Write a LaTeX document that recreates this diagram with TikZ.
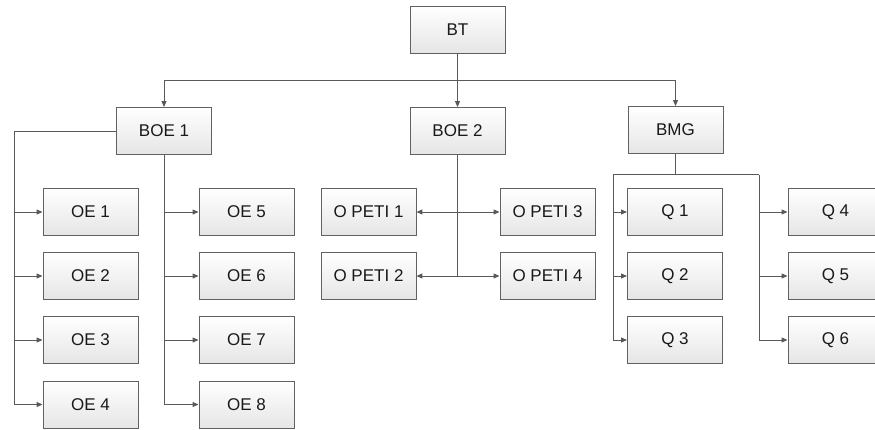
\documentclass[tikz,border=0pt]{standalone}
\usepackage{fontspec}
\setmainfont{Liberation Sans}
\usetikzlibrary{arrows.meta}

\begin{document}
\begin{tikzpicture}[
    x=1pt, y=-1pt,
    >={Triangle[length=6pt,width=5pt]},
    box/.style={
        draw=black!62,
        line width=0.9pt,
        top color=white,
        bottom color=black!10,
        minimum width=95pt,
        minimum height=47pt,
        inner sep=0pt,
        text=black!90,
        font=\fontsize{17}{19}\selectfont
    },
    wire/.style={draw=black!65, line width=1pt}
]

% Rahmen
\useasboundingbox (0,0) rectangle (875,429);
\clip (0,0) rectangle (875,429);

% Spitze
\node[box] (bt) at (457.5,29.5) {BT};

% zweite Ebene
\node[box] (boe1) at (164,131) {BOE 1};
\node[box] (boe2) at (457.5,131) {BOE 2};
\node[box] (bmg) at (675.5,130) {BMG};

% OE-Kaesten
\foreach \i/\y in {1/212,2/276,3/340,4/404.5}{
    \node[box] (oe\i) at (90.5,\y) {OE \i};
}
\foreach \i/\y in {5/212,6/276,7/340,8/404.5}{
    \node[box] (oe\i) at (246.5,\y) {OE \i};
}

% O PETI-Kaesten
\node[box] (op1) at (368.5,212) {O PETI 1};
\node[box] (op2) at (368.5,276) {O PETI 2};
\node[box] (op3) at (547.5,212) {O PETI 3};
\node[box] (op4) at (547.5,276) {O PETI 4};

% Q-Kaesten
\foreach \i/\y in {1/212,2/276,3/340}{
    \node[box] (q\i) at (675,\y) {Q \i};
}
\foreach \i/\y in {4/212,5/276,6/340}{
    \node[box] (q\i) at (835.5,\y) {Q \i};
}

% Verteiler unter BT
\coordinate (bus) at (457.5,80);
\draw[wire] (bt.south) -- (bus);
\draw[wire,->] (bus) -| (boe1.north);
\draw[wire,->] (bus) -- (boe2.north);
\draw[wire,->] (bus) -| (bmg.north);

% BOE 1 links
\coordinate (lft) at (14,131);
\draw[wire,->] (boe1.west) -- (lft) |- (oe4.west);
\foreach \i in {1,2,3}{
    \draw[wire,->] (lft |- oe\i.west) -- (oe\i.west);
}

% BOE 1 unten
\draw[wire,->] (boe1.south) |- (oe8.west);
\foreach \i in {5,6,7}{
    \draw[wire,->] (boe1.south |- oe\i.west) -- (oe\i.west);
}

% BOE 2
\draw[wire] (boe2.south) -- (boe2.south |- op2.east);
\draw[wire,->] (boe2.south |- op1.east) -- (op1.east);
\draw[wire,->] (boe2.south |- op3.west) -- (op3.west);
\draw[wire,->] (boe2.south |- op2.east) -- (op2.east);
\draw[wire,->] (boe2.south |- op4.west) -- (op4.west);

% BMG
\coordinate (qmid) at (675.5,174.5);
\coordinate (ql) at (613,174.5);
\coordinate (qr) at (759,174.5);
\draw[wire] (bmg.south) -- (qmid);
\draw[wire] (ql) -- (qr);
\draw[wire,->] (ql) |- (q3.west);
\draw[wire,->] (qr) |- (q6.west);
\foreach \i in {1,2}{
    \draw[wire,->] (ql |- q\i.west) -- (q\i.west);
}
\foreach \i in {4,5}{
    \draw[wire,->] (qr |- q\i.west) -- (q\i.west);
}

\end{tikzpicture}
\end{document}
